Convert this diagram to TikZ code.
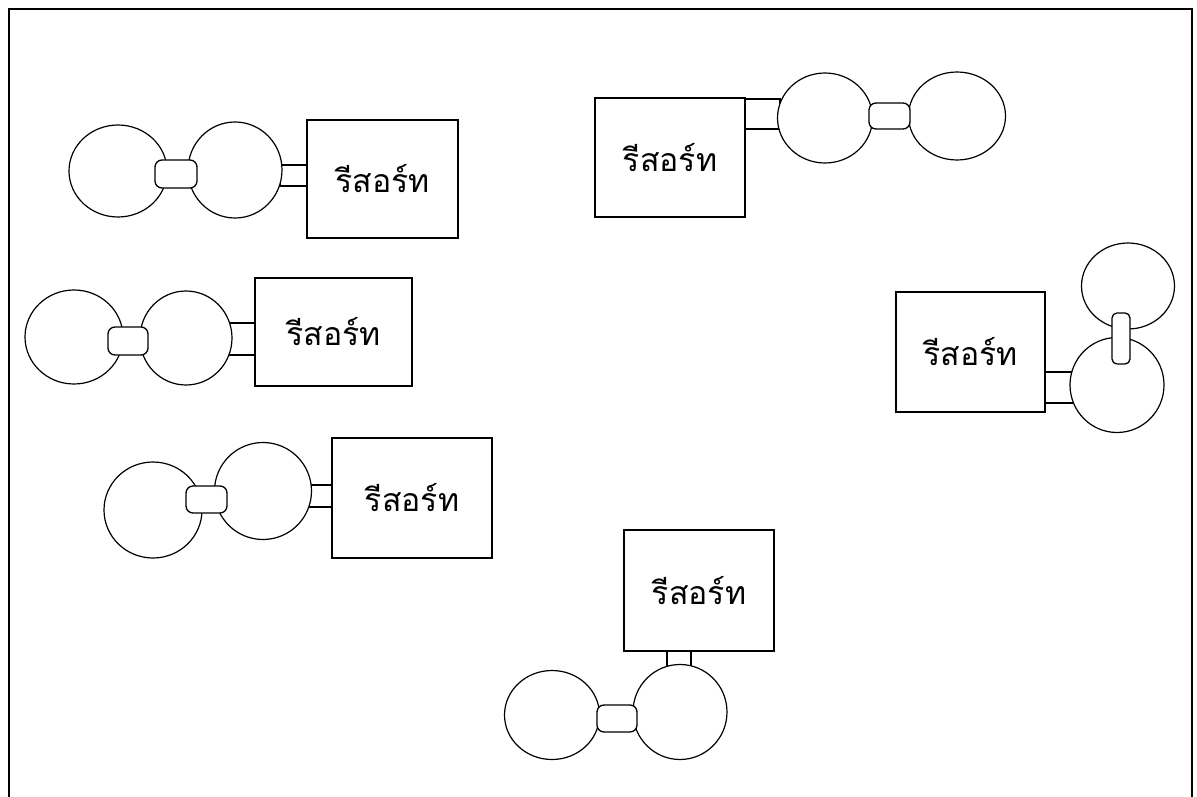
\documentclass[tikz,border=0pt]{standalone}
\usepackage{fontspec}
\newfontfamily\thaifont[Script=Thai]{Loma}
\usetikzlibrary{shapes.geometric}
\tikzset{
  frameline/.style={line width=2.5pt},
  resort/.style={draw, line width=1.4pt, fill=white, rectangle, inner sep=0pt, font=\thaifont\fontsize{32}{36}\selectfont},
  ball/.style={draw, line width=1.2pt, fill=white, ellipse, inner sep=0pt},
  neck/.style={draw, line width=1.3pt, fill=white, rectangle, rounded corners=7pt, inner sep=0pt},
  stem/.style={draw, line width=1.3pt, fill=white, rectangle, inner sep=0pt},
}
\begin{document}
\begin{tikzpicture}[x=1pt,y=-1pt]
\useasboundingbox (0,0) rectangle (1197,797);
% frame
\coordinate (fbl) at (9,797);
\coordinate (ftl) at (9,9);
\coordinate (ftr) at (1192,9);
\coordinate (fbr) at (1192,797);
\draw[frameline] (fbl) -- (ftl) -- (ftr) -- (fbr);

% group 1 (top left)
\node[stem, minimum width=27pt, minimum height=21pt] (stem1) at (293.5,175.5) {};
\node[ball, minimum width=98pt, minimum height=92pt] (ballA1) at (118,171) {};
\node[ball, minimum width=94pt, minimum height=96pt] (ballB1) at (235,170) {};
\node[neck, minimum width=42pt, minimum height=28pt] (neck1) at (176,174) {};
\node[resort, minimum width=151pt, minimum height=118pt] (box1) at (382.5,179) {รีสอร์ท};

% group 2 (top middle)
\node[stem, minimum width=35pt, minimum height=30pt] (stem2) at (762.5,114) {};
\node[resort, minimum width=150pt, minimum height=119pt] (box2) at (670,157.5) {รีสอร์ท};
\node[ball, minimum width=95pt, minimum height=90pt] (ballB2) at (825,118) {};
\node[ball, minimum width=97pt, minimum height=88pt] (ballA2) at (957,116) {};
\node[neck, minimum width=41pt, minimum height=26pt] (neck2) at (889.5,116) {};

% group 3 (middle left)
\node[stem, minimum width=27pt, minimum height=32pt] (stem3) at (241.5,339) {};
\node[ball, minimum width=98pt, minimum height=94pt] (ballA3) at (74,337) {};
\node[ball, minimum width=92pt, minimum height=94pt] (ballB3) at (186,338) {};
\node[neck, minimum width=40pt, minimum height=28pt] (neck3) at (128,341) {};
\node[resort, minimum width=157pt, minimum height=108pt] (box3) at (333.5,332) {รีสอร์ท};

% group 4 (right)
\node[stem, minimum width=36pt, minimum height=31pt] (stem4) at (1063,387.5) {};
\node[resort, minimum width=149pt, minimum height=120pt] (box4) at (970.5,352) {รีสอร์ท};
\node[ball, minimum width=94pt, minimum height=95pt] (ballB4) at (1117,385) {};
\node[ball, minimum width=93pt, minimum height=86pt] (ballA4) at (1128,286) {};
\node[neck, minimum width=18pt, minimum height=51pt, rounded corners=5pt] (neck4) at (1121,338.5) {};

% group 5 (lower left)
\node[stem, minimum width=27pt, minimum height=22pt] (stem5) at (318.5,496) {};
\node[ball, minimum width=98pt, minimum height=96pt] (ballA5) at (153,510) {};
\node[ball, minimum width=97pt, minimum height=97pt] (ballB5) at (263,491) {};
\node[neck, minimum width=41pt, minimum height=27pt] (neck5) at (206.5,499.5) {};
\node[resort, minimum width=160pt, minimum height=120pt] (box5) at (412,498) {รีสอร์ท};

% group 6 (bottom middle)
\node[stem, minimum width=24pt, minimum height=19pt] (stem6) at (679,660.5) {};
\node[resort, minimum width=150pt, minimum height=121pt] (box6) at (699,590.5) {รีสอร์ท};
\node[ball, minimum width=94pt, minimum height=95pt] (ballB6) at (680,712) {};
\node[ball, minimum width=95pt, minimum height=89pt] (ballA6) at (552,715) {};
\node[neck, minimum width=40pt, minimum height=27pt] (neck6) at (617,718.5) {};
\end{tikzpicture}
\end{document}
